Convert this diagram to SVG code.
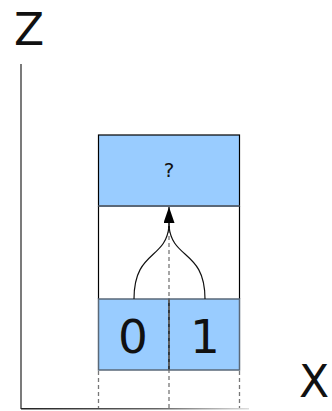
<svg xmlns="http://www.w3.org/2000/svg" width="332" height="411" viewBox="0 0 332 411">
<defs>
<linearGradient id="axg" x1="0" y1="0" x2="1" y2="0">
<stop offset="0" stop-color="#222"/>
<stop offset="0.6" stop-color="#666"/>
<stop offset="1" stop-color="#ddd"/>
</linearGradient>
<marker id="ah" markerWidth="16" markerHeight="11" refX="16" refY="5.5" orient="auto" markerUnits="userSpaceOnUse" viewBox="0 0 16 11">
<path d="M0,0 L16,5.5 L0,11 Z" fill="#000"/>
</marker>
<style>
.lbl{font-family:"DejaVu Sans","Liberation Sans",sans-serif;fill:#111;text-anchor:middle}
.cell{fill:#99ccff;stroke:#5a6878;stroke-width:1.5}
.dash{stroke:#777;stroke-width:1.3;stroke-dasharray:4,3;fill:none}
</style>
</defs>
<g id="axes">
<line x1="21" y1="64" x2="21" y2="409" stroke="#222" stroke-width="1.2"/>
<rect x="21" y="408" width="228" height="1.5" fill="url(#axg)"/>
<text class="lbl" x="29" y="45" font-size="44">Z</text>
<text class="lbl" x="314" y="397" font-size="44">X</text>
</g>
<g id="frame">
<line x1="98.5" y1="206" x2="98.5" y2="299" stroke="#000" stroke-width="1.2"/>
<line x1="239.5" y1="206" x2="239.5" y2="299" stroke="#000" stroke-width="1.2"/>
</g>
<g id="node-q">
<rect x="98.5" y="135" width="141" height="71" fill="#99ccff" stroke="#000" stroke-width="1.2"/>
<line x1="98.5" y1="206" x2="239.5" y2="206" stroke="#5a6878" stroke-width="1.8"/>
<text class="lbl" x="169" y="177" font-size="20">?</text>
</g>
<g id="node-0">
<rect class="cell" x="98.5" y="299" width="70.5" height="71"/>
<text class="lbl" x="133" y="353" font-size="47">0</text>
</g>
<g id="node-1">
<rect class="cell" x="169" y="299" width="70.5" height="71"/>
<text class="lbl" x="205" y="353" font-size="47">1</text>
</g>
<line x1="169" y1="299" x2="169" y2="370" stroke="#111" stroke-width="1.2"/>
<g id="connectors">
<line class="dash" x1="169" y1="222" x2="169" y2="408"/>
<line class="dash" x1="98.5" y1="371" x2="98.5" y2="408"/>
<line class="dash" x1="239.5" y1="371" x2="239.5" y2="408" stroke="#111"/>
<path d="M134,299 C134,250 166,260 169,226" fill="none" stroke="#111" stroke-width="1.2"/>
<path d="M205,299 C205,250 172,260 169,226" fill="none" stroke="#111" stroke-width="1.2"/>
<line x1="169" y1="228" x2="169" y2="207" stroke="#000" stroke-width="1.2" marker-end="url(#ah)"/>
</g>
</svg>
